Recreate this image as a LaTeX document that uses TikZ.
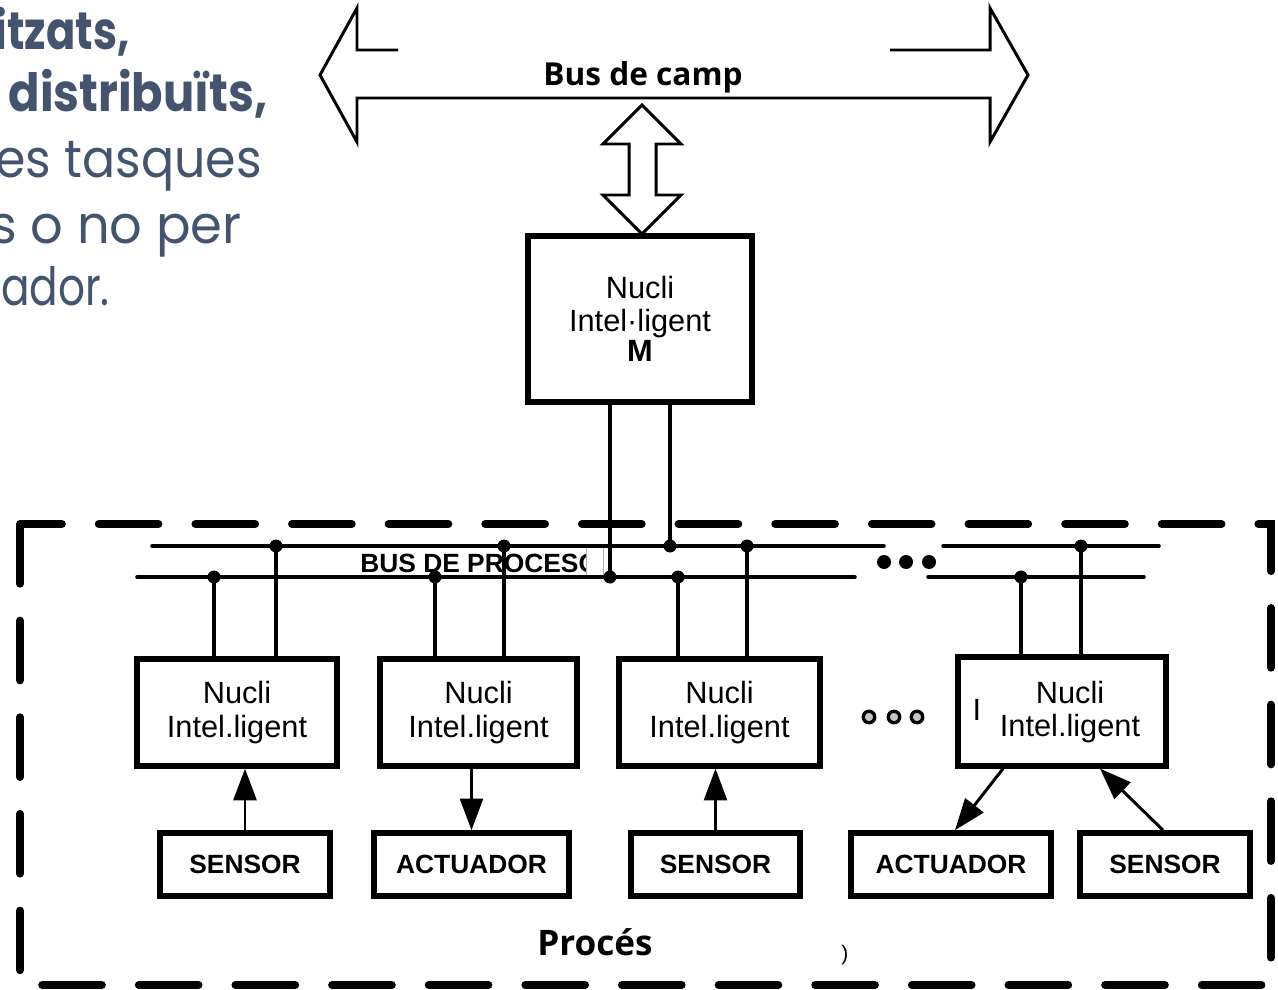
\documentclass[tikz,border=0pt]{standalone}
\usepackage{fontspec}
\setmainfont{Liberation Sans}
\newfontfamily\gothic{Poppins}
\newfontfamily\humanist{Open Sans}
\usepackage{tikz}
\usetikzlibrary{arrows.meta, positioning, calc}
\definecolor{slate}{HTML}{44546F}

\begin{document}
\begin{tikzpicture}[
  x=0.02cm, y=-0.02cm,
  nucli/.style={rectangle, draw, line width=3pt, minimum width=4cm, minimum height=2.14cm, align=center, font=\fontsize{17.5}{19}\selectfont},
  device/.style={rectangle, draw, line width=3.2pt, minimum width=3.4cm, minimum height=1.26cm, font=\fontsize{15}{18}\selectfont\bfseries},
  wire/.style={line width=2pt, line cap=round},
  arrow/.style={-{Triangle[length=18pt, width=13pt]}, line width=1.7pt},
  blockarrow/.style={line width=1.7pt, line join=miter},
  tapdot/.style={fill, circle, inner sep=0pt, minimum size=0.26cm},
  boundary/.style={line width=4.5pt, line cap=round, dash pattern=on 34pt off 21pt},
  slide/.style={text=slate, inner sep=0pt, anchor=base east, font=\gothic\fontsize{30}{35}\selectfont}
]
  \useasboundingbox (0,0) rectangle (1278,990);

  % text of the slide behind the diagram
  \begin{scope}
    \clip (0,0) rectangle (1278,990);
    \node[slide] (l1) at (130,50) {\scalebox{0.82}[1]{\bfseries itzats,}};
    \node[slide] (l2) at (268,112) {\scalebox{0.88}[1]{i \bfseries distribuïts,}};
    \node[slide] (l3) at (262,177) {\scalebox{0.93}[1]{es tasques}};
    \node[slide] (l4) at (242,243) {\scalebox{0.97}[1]{s o no per}};
    \node[slide] (l5) at (110,305) {\scalebox{0.8}[1]{ador.}};
  \end{scope}

  % process boundary
  \draw[boundary] (20,524) rectangle (1271,985);

  % field bus
  \draw[blockarrow] (398,50) -- (357,50) -- (357,8) -- (320,75) -- (357,142) -- (357,98)
    -- (990,98) -- (990,142) -- (1028,75) -- (990,8) -- (990,50) -- (890,50);
  \node[font=\humanist\bfseries\fontsize{18}{22}\selectfont] (camp) at (643,77) {Bus de camp};
  \draw[blockarrow] (642,105) -- (681,144) -- (656,144) -- (656,195) -- (681,195) -- (642,234)
    -- (603,195) -- (629,195) -- (629,144) -- (603,144) -- cycle;

  \node[nucli, minimum width=4.48cm, minimum height=3.32cm] (mbox) at (640,319) {Nucli\\Intel·ligent\\[-2pt]\textbf{M}};

  % process bus
  \node[font=\fontsize{15}{18}\selectfont\bfseries, anchor=base west, inner sep=0pt] (busproc) at (360,572) {BUS DE PROCESO};
  \filldraw[fill=white, draw=gray!60, line width=0.4pt] (586,546) rectangle (603,577);
  \draw[wire] (152,546) -- (884,546);
  \draw[wire] (943,546) -- (1159,546);
  \draw[wire] (137,577) -- (855,577);
  \draw[wire] (928,577) -- (1144,577);
  \foreach \x in {884,906,929} \fill (\x,562) circle (0.14cm);

  % nodes on the process bus
  \node[nucli] (n1) at (237,712.5) {Nucli\\Intel.ligent};
  \node[nucli, minimum width=3.94cm] (n2) at (478.5,712.5) {Nucli\\Intel.ligent};
  \node[nucli, minimum width=4.02cm] (n3) at (719.5,712.5) {Nucli\\Intel.ligent};
  \node[nucli, minimum width=4.16cm, minimum height=2.18cm] (n4) at (1062,711.5) {};
  \node[align=center, font=\fontsize{17.5}{19}\selectfont] (n4text) at (1070,712) {Nucli\\Intel.ligent};
  \node[font=\fontsize{17.5}{19}\selectfont] (n4mark) at (977,710) {I};
  \foreach \x in {869,894,917} \draw[line width=1.9pt, fill=gray!45] (\x,717) circle (0.115cm);

  % taps
  \foreach \x/\b in {214/n1, 435/n2, 678/n3, 1021/n4}{
    \coordinate (tap) at (\x,577);
    \draw[wire] (tap) -- (tap |- \b.north);
    \node[tapdot] at (tap) {};
  }
  \foreach \x/\b in {276/n1, 504/n2, 747/n3, 1081/n4}{
    \coordinate (tap) at (\x,546);
    \draw[wire] (tap) -- (tap |- \b.north);
    \node[tapdot] at (tap) {};
  }
  \coordinate (mtapP) at (610,577);
  \coordinate (mtapT) at (670,546);
  \draw[wire] (mtapP |- mbox.south) -- (mtapP);
  \draw[wire] (mtapT |- mbox.south) -- (mtapT);
  \node[tapdot] at (mtapP) {};
  \node[tapdot] at (mtapT) {};

  % sensors and actuators
  \node[device] (s1) at (245,864.5) {SENSOR};
  \node[device, minimum width=3.9cm] (a1) at (471.5,864.5) {ACTUADOR};
  \node[device, minimum width=3.38cm] (s2) at (715.5,864.5) {SENSOR};
  \node[device, minimum width=4cm] (a2) at (951,864.5) {ACTUADOR};
  \node[device] (s3) at (1165,864.5) {SENSOR};

  \draw[arrow] (s1) -- (s1 |- n1.south);
  \draw[arrow] (a1 |- n2.south) -- (a1);
  \draw[arrow] (s2) -- (s2 |- n3.south);
  \draw[arrow] ([xshift=-1.18cm]n4.south) -- ([xshift=0.08cm]a2.north);
  \draw[arrow] ([xshift=-0.04cm]s3.north) -- ([xshift=0.76cm]n4.south);

  \node[font=\humanist\bfseries\fontsize{20}{24}\selectfont] (proces) at (595,942) {Procés};
  \node[font=\fontsize{12}{14}\selectfont] (paren) at (845,955) {)};
\end{tikzpicture}
\end{document}
